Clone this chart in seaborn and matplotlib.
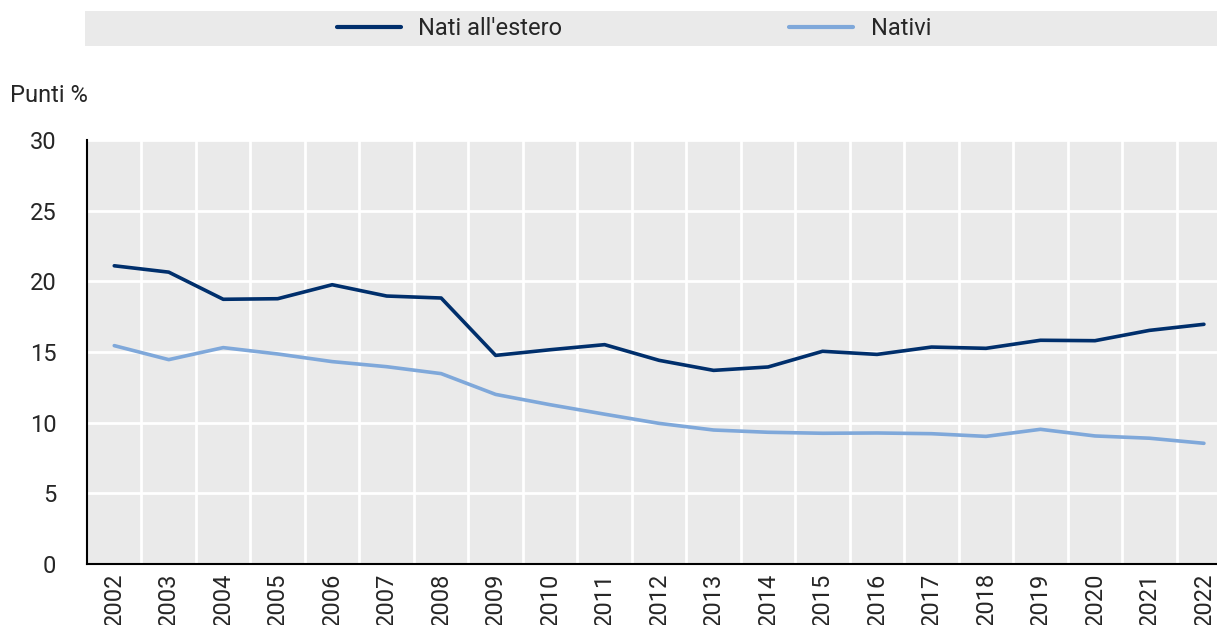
import numpy as np
import pandas as pd
import matplotlib
matplotlib.use("Agg")
import matplotlib.pyplot as plt
from matplotlib import font_manager
from matplotlib.patches import Rectangle
from matplotlib.lines import Line2D
import seaborn as sns

years = [str(y) for y in range(2002, 2023)]
nati_estero = [21.1, 20.65, 18.73, 18.77, 19.76, 18.96, 18.82, 14.76, 15.16, 15.52, 14.41,
               13.70, 13.94, 15.05, 14.83, 15.35, 15.26, 15.83, 15.80, 16.53, 16.96]
nativi = [15.45, 14.46, 15.31, 14.86, 14.32, 13.96, 13.47, 12.0, 11.27, 10.6, 9.95,
          9.48, 9.32, 9.25, 9.27, 9.22, 9.03, 9.53, 9.06, 8.9, 8.54]
series_names = ["Nati all'estero", "Nativi"]
colors = ["#002F6C", "#7FA8DA"]

df = pd.DataFrame({
    "anno": years * 2,
    "valore": nati_estero + nativi,
    "serie": [series_names[0]] * len(years) + [series_names[1]] * len(years),
})

sns.set_style("white", {"axes.facecolor": "#EAEAEA"})
available = {f.name for f in font_manager.fontManager.ttflist}
narrow = "Liberation Sans Narrow" if "Liberation Sans Narrow" in available else "Roboto"
plt.rcParams["font.family"] = [narrow, "DejaVu Sans"]

fig = plt.figure(figsize=(12.17, 6.25), dpi=100)
ax = fig.add_axes([0.0715, 0.0976, 0.9285, 0.6784])

sns.lineplot(data=df, x="anno", y="valore", hue="serie", palette=colors,
             linewidth=2.6, sort=False, legend=False, ax=ax)

n = len(years)
ax.set_xlim(-0.5, n - 1 + 0.24)
ax.set_ylim(0, 30)
ax.set_yticks(np.arange(0, 31, 5))
ax.set_xticks(range(n))
ax.set_xticklabels(years, rotation=90, fontsize=17)
ax.set_xticks(np.arange(0.5, n - 1, 1), minor=True)
ax.tick_params(axis="x", which="major", length=0, pad=6)
ax.tick_params(axis="x", which="minor", direction="in", length=7, width=1.5, color="black")
ax.tick_params(axis="y", direction="in", length=7, width=1.5, color="black", labelsize=17, pad=22)
ax.grid(axis="y", which="major", color="white", linewidth=2)
ax.grid(axis="x", which="minor", color="white", linewidth=2)
ax.set_axisbelow(True)
ax.set_xlabel("")
ax.set_ylabel("")
for s in ["top", "right"]:
    ax.spines[s].set_visible(False)
for s in ["left", "bottom"]:
    ax.spines[s].set_color("black")
    ax.spines[s].set_linewidth(1.5)

fig.text(0.008, 0.848, "Punti %", fontsize=17, va="center", ha="left")

# legend band
fig.patches.append(Rectangle((0.0698, 0.926), 0.93, 0.056, transform=fig.transFigure,
                             facecolor="#EAEAEA", edgecolor="none", zorder=0))
handles = [Line2D([0], [0], color=c, lw=3) for c in colors]
fig.legend(handles, series_names, loc="center", bbox_to_anchor=(0.521, 0.954), ncol=2,
           frameon=False, fontsize=17, handlelength=2.7, handletextpad=0.75,
           columnspacing=9.6)

plt.savefig("out.png", dpi=100)
